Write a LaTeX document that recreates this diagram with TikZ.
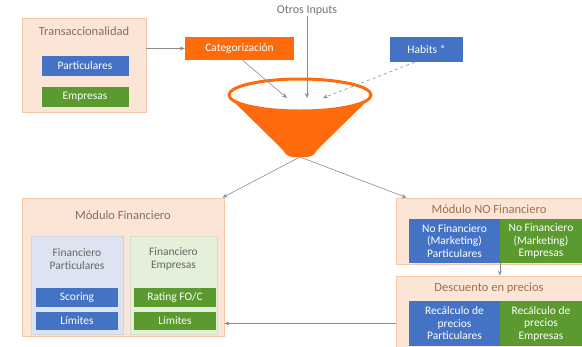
\documentclass[tikz,border=0pt]{standalone}
\usepackage{fontspec}
\setmainfont{Carlito}
\usetikzlibrary{arrows.meta}
\definecolor{peach}{HTML}{FBE5D6}
\definecolor{peachline}{HTML}{F6C6A6}
\definecolor{azul}{HTML}{4472C4}
\definecolor{verde}{HTML}{5A9A2E}
\definecolor{naranja}{HTML}{FF6A0D}
\definecolor{azulclaro}{HTML}{DCE4F2}
\definecolor{verdeclaro}{HTML}{E4F0DA}
\definecolor{tituloc}{HTML}{8A6E5C}
\definecolor{gris}{HTML}{8C8C8C}
\tikzset{
    modulo/.style={draw=peachline, fill=peach, line width=0.8pt, inner sep=0pt},
    celda/.style={text=white, align=center, inner sep=0pt, font=\fontsize{11.5}{12.5}\selectfont},
    titulo/.style={text=tituloc, align=center, inner sep=0pt, font=\fontsize{12.5}{13.5}\selectfont},
    flecha/.style={draw=gris, line width=0.6pt, -{Stealth[length=5pt,width=4pt]}},
}
\begin{document}
\begin{tikzpicture}[x=1pt,y=-1pt]
    \useasboundingbox (0,0) rectangle (582,346);

    % Transaccionalidad
    \node[modulo, minimum width=124, minimum height=94] (trans) at (84,65) {};
    \node[titulo] (transTit) at (84,31) {Transaccionalidad};
    \node[celda, fill=azul, minimum width=87, minimum height=20] (part) at (85,66) {Particulares};
    \node[celda, fill=verde, minimum width=87, minimum height=20] (emp) at (85,97) {Empresas};

    % Inputs of the funnel
    \node[celda, fill=naranja, minimum width=109, minimum height=23] (cat) at (239.5,48.5) {Categorización};
    \node[text=gray!90!black, inner sep=0pt, font=\fontsize{12}{13}\selectfont] (otros) at (307,11) {Otros Inputs};
    \node[celda, fill=azul, minimum width=73, minimum height=25] (habits) at (426.5,49.5) {Habits *};

    % Funnel
    \fill[naranja] (229,97) -- (283,150) .. controls (286,155) .. (292,157) -- (308,157) .. controls (314,155) .. (317,150) -- (371,97) -- cycle;
    \draw[naranja, line width=3pt, fill=white] (300,95) ellipse [x radius=71pt, y radius=16pt];
    \coordinate (boca1) at (287,98);
    \coordinate (boca2) at (307,98);
    \coordinate (boca3) at (323,98);
    \coordinate (fondo) at (300,157);

    % Connections to the funnel
    \draw[flecha] (trans.east |- cat) -- (cat.west);
    \draw[flecha] ([xshift=3pt]cat.south) -- (boca1);
    \draw[flecha] (otros.south) -- (boca2);
    \draw[flecha, dashed] ([xshift=-12pt]habits.south) -- (boca3);

    % Modulo Financiero
    \node[modulo, minimum width=202, minimum height=138] (mf) at (123,267) {};
    \node[titulo] (mfTit) at (123,215) {Módulo Financiero};
    \node[fill=azulclaro, draw=azulclaro!85!gray, minimum width=92, minimum height=98] (finP) at (77,285) {};
    \node[fill=verdeclaro, draw=verdeclaro!85!gray, minimum width=87, minimum height=98] (finE) at (173.5,285) {};
    \node[celda, text=gray!80!black] (finPTit) at (77,259) {Financiero\\Particulares};
    \node[celda, text=gray!80!black] (finETit) at (173.5,259) {Financiero\\Empresas};
    \node[celda, fill=azul, minimum width=82, minimum height=19] (scoring) at (77,297.5) {Scoring};
    \node[celda, fill=azul, minimum width=82, minimum height=18] (limP) at (77,321) {Límites};
    \node[celda, fill=verde, minimum width=82, minimum height=19] (rating) at (175,297.5) {Rating FO/C};
    \node[celda, fill=verde, minimum width=82, minimum height=18] (limE) at (175,321) {Límites};

    % Modulo NO Financiero
    \node[modulo, minimum width=186, minimum height=66] (mnf) at (489,231) {};
    \node[titulo, text=tituloc!80!orange] (mnfTit) at (489,209.5) {Módulo NO Financiero};
    \node[celda, fill=azul, minimum width=91, minimum height=44] (nfP) at (454.5,241) {No Financiero\\(Marketing)\\Particulares};
    \node[celda, fill=verde, minimum width=82, minimum height=44] (nfE) at (541,241) {No Financiero\\(Marketing)\\Empresas};

    % Descuento en precios
    \node[modulo, minimum width=186, minimum height=72] (desc) at (489,312) {};
    \node[titulo, text=tituloc!80!orange] (descTit) at (489,288) {Descuento en precios};
    \node[celda, fill=azul, minimum width=91, minimum height=45] (recP) at (454.5,323.5) {Recálculo de\\precios\\Particulares};
    \node[celda, fill=verde, minimum width=82, minimum height=45] (recE) at (541,323.5) {Recálculo de\\precios\\Empresas};

    % Outputs
    \draw[flecha] (fondo) -- ([xshift=-2pt]mf.north east);
    \draw[flecha] (fondo) -- ([xshift=11pt]mnf.north west);
    \draw[flecha] (nfE.south west) -- (desc.north -| nfE.west);
    \draw[flecha] (desc.west |- recP) -- (mf.east |- recP);
\end{tikzpicture}
\end{document}
